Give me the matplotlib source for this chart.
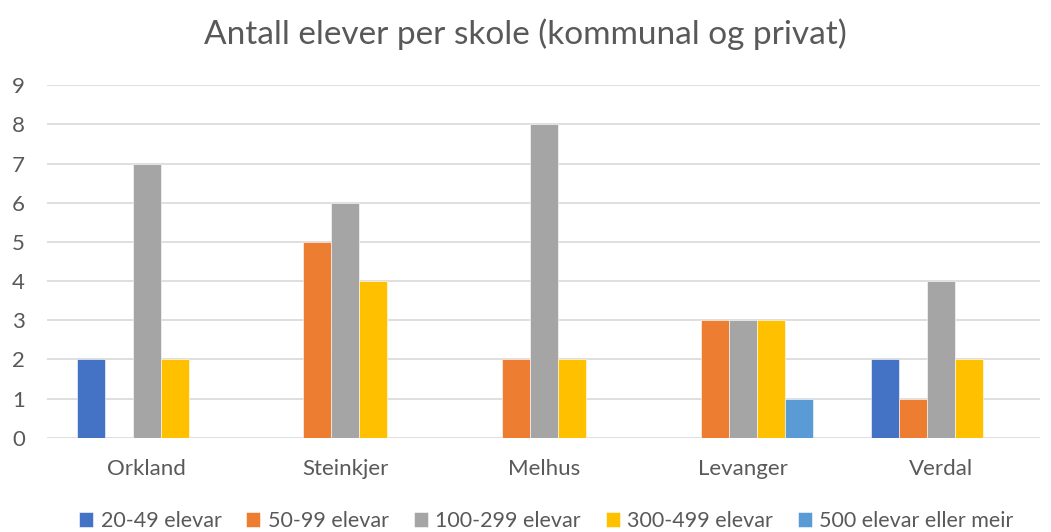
import numpy as np
import matplotlib.pyplot as plt

plt.rcParams['font.family'] = ['Lato', 'DejaVu Sans']

kommunar = ['Orkland', 'Steinkjer', 'Melhus', 'Levanger', 'Verdal']
grupper = ['20-49 elevar', '50-99 elevar', '100-299 elevar', '300-499 elevar', '500 elevar eller meir']
elev_20_49 = [2, 0, 0, 0, 2]
elev_50_99 = [0, 5, 2, 3, 1]
elev_100_299 = [7, 6, 8, 3, 4]
elev_300_499 = [2, 4, 2, 3, 2]
elev_500 = [0, 0, 0, 1, 0]
farger = ['#4472C4', '#ED7D31', '#A5A5A5', '#FFC000', '#5B9BD5']

serier = [elev_20_49, elev_50_99, elev_100_299, elev_300_499, elev_500]

fig = plt.figure(figsize=(10.51, 5.32), dpi=100)
ax = fig.add_axes([0.045, 0.177, 0.945, 0.663])

x = np.arange(len(kommunar))
w = 0.141
for i, (verdiar, namn) in enumerate(zip(serier, grupper)):
    ax.bar(x + (i - 2) * w, verdiar, width=w, color=farger[i], label=namn,
           edgecolor='white', linewidth=0.4, zorder=3)

tekst = '#595959'
ax.set_xlim(-0.5, 4.5)
ax.set_ylim(0, 9)
ax.set_yticks(range(10))
ax.set_xticks(x)
ax.set_xticklabels(kommunar)
ax.tick_params(axis='both', length=0, colors=tekst, labelsize=16)
ax.tick_params(axis='x', pad=15)
ax.tick_params(axis='y', pad=16)
ax.grid(axis='y', color='#D9D9D9', linewidth=1.2, zorder=0)
for s in ax.spines.values():
    s.set_visible(False)

fig.suptitle('Antall elever per skole (kommunal og privat)', y=0.965,
             fontsize=24, color=tekst)
fig.legend(loc='lower center', ncol=5, frameon=False, fontsize=15.5,
           labelcolor=tekst, handlelength=0.65, handleheight=0.65,
           handletextpad=0.35, columnspacing=1.15, bbox_to_anchor=(0.52, -0.035))

fig.savefig('out.png', dpi=100)
